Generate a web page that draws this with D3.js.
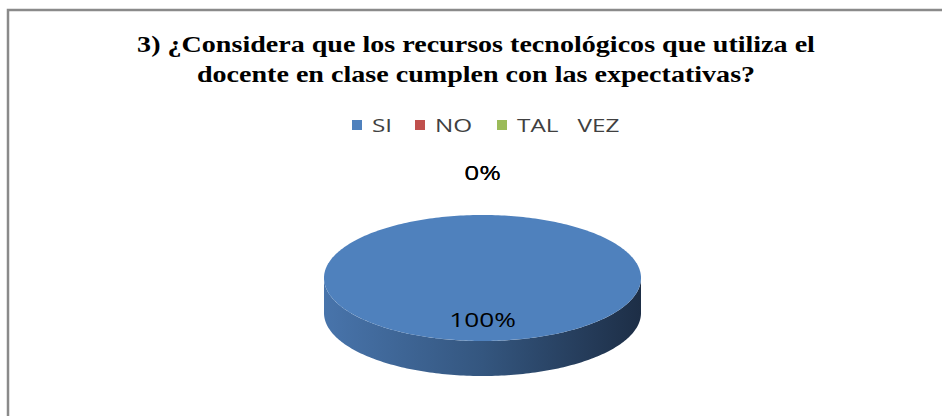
<!DOCTYPE html>
<html>
<head>
<meta charset="utf-8">
<script src="https://cdn.jsdelivr.net/npm/d3@7"></script>
<style>
  body { margin: 0; background: #fff; }
  svg { display: block; }
</style>
</head>
<body>
<svg id="chart"></svg>
<script>
// chart data
const categories = ["SI", "NO", "TAL   VEZ"];
const values = [100, 0, 0];
const colors = ["#4F81BD", "#C0504D", "#9BBB59"];
const titleLines = ["3) ¿Considera que los recursos tecnológicos que utiliza el",
                    "docente en clase cumplen con las expectativas?"];

const W = 942, H = 416;
const svg = d3.select("#chart").attr("width", W).attr("height", H);

// the original picture is stretched sideways, so text is too
const sansStretch = 1.28, serifStretch = 1.17;

// chart border (runs off the right/bottom of the picture)
svg.append("rect")
  .attr("x", 8).attr("y", 10)
  .attr("width", W + 20).attr("height", H + 20)
  .attr("fill", "#fff")
  .attr("stroke", "#8a8a8a").attr("stroke-width", 2.5);

// title
svg.append("g")
  .attr("font-family", "'Liberation Serif', 'Times New Roman', serif")
  .attr("font-weight", "bold")
  .attr("font-size", 24)
  .attr("fill", "#000")
  .attr("text-anchor", "middle")
  .selectAll("text").data(titleLines).join("text")
  .attr("transform", (d, i) => `translate(476,${52 + i * 30}) scale(${serifStretch},1)`)
  .text(d => d);

// legend
const legendX = [352, 415, 497];
const legend = svg.append("g").attr("font-family", "'Open Sans', 'Liberation Sans', sans-serif")
  .attr("font-size", 19).attr("fill", "#404040");
const items = legend.selectAll("g").data(categories).join("g")
  .attr("transform", (d, i) => `translate(${legendX[i]},125)`);
items.append("rect").attr("x", 0).attr("y", -5).attr("width", 10).attr("height", 10)
  .attr("fill", (d, i) => colors[i]);
items.append("text")
  .attr("transform", `translate(20,0) scale(${sansStretch},1)`)
  .attr("dy", "0.35em")
  .style("white-space", "pre").text(d => d);

// 3D pie
const cx = 482.5, cy = 278, rx = 158.5, ry = 63, depth = 35;
const pie = d3.pie().sort(null).value(d => d)(values);

const ex = a => cx + rx * Math.sin(a);
const ey = a => cy - ry * Math.cos(a);

const defs = svg.append("defs");
const grad = defs.append("linearGradient").attr("id", "side")
  .attr("gradientUnits", "userSpaceOnUse")
  .attr("x1", cx - rx).attr("x2", cx + rx).attr("y1", 0).attr("y2", 0);
grad.append("stop").attr("offset", "0%").attr("stop-color", "#4874AB");
grad.append("stop").attr("offset", "50%").attr("stop-color", "#34567F");
grad.append("stop").attr("offset", "100%").attr("stop-color", "#1D2E46");

function arcPoints(a0, a1, dy) {
  const n = Math.max(2, Math.ceil((a1 - a0) / 0.02));
  return d3.range(n + 1).map(i => {
    const a = a0 + (a1 - a0) * i / n;
    return [ex(a), ey(a) + dy];
  });
}

// side walls: only the front half (angles pi/2 .. 3pi/2) is visible
const sides = svg.append("g");
pie.forEach(s => {
  const a0 = Math.max(s.startAngle, Math.PI / 2), a1 = Math.min(s.endAngle, 3 * Math.PI / 2);
  if (a1 <= a0) return;
  const top = arcPoints(a0, a1, 0), bot = arcPoints(a0, a1, depth).reverse();
  sides.append("path")
    .attr("d", d3.line()(top.concat(bot)) + "Z")
    .attr("fill", "url(#side)");
});

// top faces
const tops = svg.append("g");
pie.forEach((s, i) => {
  if (s.endAngle - s.startAngle <= 0) return;
  const pts = arcPoints(s.startAngle, s.endAngle, 0);
  const full = s.endAngle - s.startAngle >= 2 * Math.PI - 1e-6;
  tops.append("path")
    .attr("d", full ? d3.line()(pts) + "Z" : d3.line()([[cx, cy]].concat(pts)) + "Z")
    .attr("fill", colors[i]);
});

// data labels
const labels = svg.append("g").attr("font-family", "'Open Sans', 'Liberation Sans', sans-serif")
  .attr("font-size", 20.5).attr("fill", "#000").attr("text-anchor", "middle");
pie.forEach(s => {
  const mid = (s.startAngle + s.endAngle) / 2;
  const inside = s.value > 0;
  const r = inside ? 0.67 : 1.67;
  const x = cx + r * rx * Math.sin(mid) * (inside ? 1 : 0);
  const y = cy - r * ry * Math.cos(mid);
  labels.append("text")
    .attr("transform", `translate(${x},${y}) scale(${sansStretch},1)`)
    .attr("dy", "0.35em")
    .text(d3.format(".0%")(s.value / d3.sum(values)));
});
</script>
</body>
</html>
